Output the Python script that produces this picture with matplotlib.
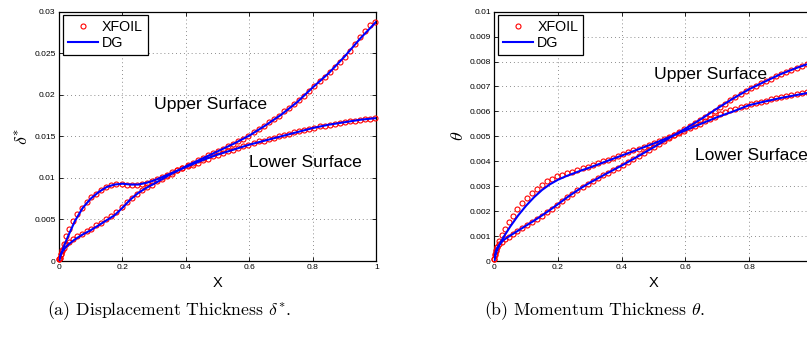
import matplotlib
matplotlib.use('Agg')
import matplotlib.pyplot as plt
from matplotlib.ticker import FuncFormatter
from matplotlib.lines import Line2D

plt.rcParams['font.family'] = ['Liberation Sans', 'DejaVu Sans']
plt.rcParams['mathtext.fontset'] = 'cm'

# %% XFOIL boundary-layer stations (same chordwise stations on both surfaces)
x_xfoil = [0.0, 0.002, 0.005, 0.009, 0.015, 0.023, 0.033, 0.045, 0.058, 0.072,
           0.087, 0.102, 0.117, 0.133, 0.149, 0.165, 0.181, 0.197, 0.213, 0.229,
           0.245, 0.261, 0.277, 0.293, 0.309, 0.325, 0.341, 0.357, 0.373, 0.389,
           0.405, 0.421, 0.437, 0.453, 0.469, 0.485, 0.501, 0.517, 0.533, 0.549,
           0.565, 0.581, 0.597, 0.613, 0.629, 0.645, 0.661, 0.677, 0.693, 0.709,
           0.725, 0.741, 0.757, 0.773, 0.789, 0.805, 0.821, 0.837, 0.853, 0.869,
           0.885, 0.901, 0.917, 0.933, 0.949, 0.965, 0.981, 0.996]

# displacement thickness, XFOIL
dstar_up_xfoil = [0.0002, 0.0004, 0.0008, 0.0012, 0.0016, 0.0020, 0.0023, 0.0027, 0.0030, 0.0033,
                  0.0036, 0.0039, 0.0043, 0.0046, 0.0050, 0.0054, 0.0059, 0.0065, 0.0071, 0.0076,
                  0.0081, 0.0085, 0.0089, 0.0092, 0.0096, 0.0099, 0.0102, 0.0105, 0.0109, 0.0112,
                  0.0115, 0.0118, 0.0121, 0.0124, 0.0127, 0.0130, 0.0132, 0.0135, 0.0138, 0.0141,
                  0.0144, 0.0147, 0.0151, 0.0155, 0.0159, 0.0163, 0.0167, 0.0171, 0.0175, 0.0180,
                  0.0184, 0.0189, 0.0194, 0.0199, 0.0205, 0.0211, 0.0217, 0.0222, 0.0227, 0.0233,
                  0.0239, 0.0246, 0.0253, 0.0261, 0.0269, 0.0277, 0.0284, 0.0288]
dstar_lo_xfoil = [0.0002, 0.0004, 0.0008, 0.0013, 0.0020, 0.0030, 0.0039, 0.0048, 0.0057, 0.0064,
                  0.0071, 0.0077, 0.0081, 0.0085, 0.0089, 0.0091, 0.0093, 0.0093, 0.0092, 0.0092,
                  0.0092, 0.0093, 0.0094, 0.0096, 0.0099, 0.0101, 0.0104, 0.0107, 0.0109, 0.0112,
                  0.0114, 0.0116, 0.0118, 0.0121, 0.0123, 0.0126, 0.0128, 0.0130, 0.0132, 0.0134,
                  0.0136, 0.0138, 0.0140, 0.0142, 0.0144, 0.0145, 0.0147, 0.0148, 0.0150, 0.0152,
                  0.0153, 0.0155, 0.0156, 0.0158, 0.0159, 0.0160, 0.0162, 0.0163, 0.0164, 0.0165,
                  0.0166, 0.0167, 0.0168, 0.0169, 0.0170, 0.0171, 0.0171, 0.0172]

# momentum thickness, XFOIL
theta_up_xfoil = [0.00010, 0.00030, 0.00046, 0.00058, 0.00068, 0.00078, 0.00087, 0.00097, 0.00108, 0.00119,
                  0.00131, 0.00143, 0.00156, 0.00169, 0.00182, 0.00196, 0.00210, 0.00225, 0.00240, 0.00256,
                  0.00270, 0.00284, 0.00297, 0.00309, 0.00321, 0.00332, 0.00343, 0.00354, 0.00364, 0.00375,
                  0.00386, 0.00398, 0.00410, 0.00421, 0.00433, 0.00445, 0.00457, 0.00469, 0.00481, 0.00493,
                  0.00505, 0.00517, 0.00529, 0.00540, 0.00552, 0.00564, 0.00576, 0.00589, 0.00603, 0.00617,
                  0.00631, 0.00644, 0.00656, 0.00668, 0.00680, 0.00692, 0.00702, 0.00712, 0.00722, 0.00732,
                  0.00741, 0.00750, 0.00759, 0.00768, 0.00775, 0.00782, 0.00789, 0.00795]
theta_lo_xfoil = [0.00010, 0.00025, 0.00042, 0.00058, 0.00080, 0.00106, 0.00129, 0.00155, 0.00182, 0.00207,
                  0.00231, 0.00253, 0.00272, 0.00290, 0.00305, 0.00319, 0.00330, 0.00339, 0.00346, 0.00352,
                  0.00359, 0.00365, 0.00372, 0.00379, 0.00386, 0.00393, 0.00400, 0.00407, 0.00415, 0.00423,
                  0.00430, 0.00437, 0.00444, 0.00451, 0.00459, 0.00466, 0.00473, 0.00481, 0.00489, 0.00497,
                  0.00505, 0.00514, 0.00523, 0.00532, 0.00541, 0.00550, 0.00560, 0.00570, 0.00579, 0.00588,
                  0.00596, 0.00604, 0.00610, 0.00616, 0.00622, 0.00628, 0.00633, 0.00638, 0.00643, 0.00648,
                  0.00652, 0.00657, 0.00661, 0.00665, 0.00669, 0.00673, 0.00677, 0.00680]

# %% DG solution
x_dg = [0.0, 0.005, 0.01, 0.02, 0.03, 0.05, 0.075, 0.1, 0.125, 0.15,
        0.175, 0.2, 0.225, 0.25, 0.275, 0.3, 0.35, 0.4, 0.45, 0.5,
        0.55, 0.6, 0.65, 0.7, 0.75, 0.8, 0.85, 0.9, 0.95, 1.0]
dstar_up_dg = [0.0, 0.0007, 0.0011, 0.0016, 0.0020, 0.0026, 0.0032, 0.0037, 0.0043, 0.0049,
               0.0055, 0.0064, 0.0074, 0.0082, 0.0088, 0.0093, 0.0104, 0.0114, 0.0123, 0.0132,
               0.0141, 0.0151, 0.0163, 0.0176, 0.0191, 0.0209, 0.0226, 0.0246, 0.0268, 0.0288]
dstar_lo_dg = [0.0, 0.0007, 0.0012, 0.0022, 0.0031, 0.0048, 0.0064, 0.0075, 0.0083, 0.0089,
               0.0092, 0.0093, 0.0092, 0.0092, 0.0094, 0.0097, 0.0105, 0.0113, 0.0121, 0.0128,
               0.0134, 0.0140, 0.0145, 0.0150, 0.0155, 0.0160, 0.0164, 0.0167, 0.0170, 0.0172]
theta_up_dg = [0.0, 0.00040, 0.00055, 0.00072, 0.00085, 0.00102, 0.00122, 0.00142, 0.00162, 0.00183,
               0.00205, 0.00228, 0.00252, 0.00274, 0.00295, 0.00314, 0.00349, 0.00383, 0.00419, 0.00456,
               0.00494, 0.00531, 0.00570, 0.00612, 0.00652, 0.00689, 0.00720, 0.00750, 0.00775, 0.00797]
theta_lo_dg = [0.0, 0.00030, 0.00048, 0.00075, 0.00098, 0.00138, 0.00183, 0.00222, 0.00256, 0.00285,
               0.00308, 0.00326, 0.00340, 0.00352, 0.00364, 0.00375, 0.00399, 0.00423, 0.00447, 0.00471,
               0.00497, 0.00524, 0.00551, 0.00577, 0.00600, 0.00625, 0.00640, 0.00654, 0.00666, 0.00678]

xticks = [0, 0.2, 0.4, 0.6, 0.8, 1]
dstar_ticks = [0, 0.005, 0.01, 0.015, 0.02, 0.025, 0.03]
theta_ticks = [0, 0.001, 0.002, 0.003, 0.004, 0.005, 0.006, 0.007, 0.008, 0.009, 0.01]


# %% Plotting
def style_axes(ax, yticks, ylim):
    ax.set_xlim(0, 1)
    ax.set_ylim(*ylim)
    ax.set_xticks(xticks)
    ax.set_yticks(yticks)
    fmt = FuncFormatter(lambda v, pos: '%g' % round(v, 6))
    ax.xaxis.set_major_formatter(fmt)
    ax.yaxis.set_major_formatter(fmt)
    ax.tick_params(direction='in', length=3, width=0.6, labelsize=6.1,
                   top=True, right=True, pad=2.5, colors='black')
    ax.grid(True, color='0.45', linestyle=(0, (0.8, 3.2)), linewidth=0.7)
    for s in ax.spines.values():
        s.set_linewidth(0.9)
        s.set_color('black')
    ax.set_xlabel('X', fontsize=10.5, labelpad=3)
    handles = [Line2D([], [], linestyle='none', marker='o', markersize=3.6,
                      markerfacecolor='none', markeredgecolor='red', markeredgewidth=0.8),
               Line2D([], [], color='blue', linewidth=1.5)]
    leg = ax.legend(handles, ['XFOIL', 'DG'], loc='upper left', fontsize=10.3,
                    fancybox=False, framealpha=1, edgecolor='black',
                    borderaxespad=0.25, handlelength=2.1, handletextpad=0.3,
                    labelspacing=0.15, borderpad=0.35)
    leg.get_frame().set_linewidth(0.9)


def plot_pair(ax, x_xf, y_up, y_lo, x_d, d_up, d_lo):
    for y in (y_up, y_lo):
        ax.plot(x_xf, y, linestyle='none', marker='o', markersize=3.6,
                markerfacecolor='none', markeredgecolor='red', markeredgewidth=0.8,
                clip_on=False, zorder=3)
    for y in (d_up, d_lo):
        ax.plot(x_d, y, color='blue', linewidth=1.5, zorder=4)


fig = plt.figure(figsize=(8.07, 3.37), dpi=100)

ax1 = fig.add_axes([0.0731, 0.2255, 0.3932, 0.7398])
plot_pair(ax1, x_xfoil, dstar_up_xfoil, dstar_lo_xfoil, x_dg, dstar_up_dg, dstar_lo_dg)
style_axes(ax1, dstar_ticks, (0, 0.03))
ax1.set_ylabel(r'$\delta^{*}$', fontsize=13, labelpad=1)
ax1.text(0.30, 0.0188, 'Upper Surface', fontsize=12.6, va='center', ha='left')
ax1.text(0.60, 0.01185, 'Lower Surface', fontsize=12.6, va='center', ha='left')

ax2 = fig.add_axes([0.6125, 0.2255, 0.3947, 0.7398])
plot_pair(ax2, x_xfoil, theta_up_xfoil, theta_lo_xfoil, x_dg, theta_up_dg, theta_lo_dg)
style_axes(ax2, theta_ticks, (0, 0.01))
# the x = 1 label falls past the right edge of the figure
ax2.set_xticklabels(['0', '0.2', '0.4', '0.6', '0.8', ''])
ax2.set_ylabel(r'$\theta$', fontsize=13, labelpad=2)
ax2.text(0.50, 0.0075, 'Upper Surface', fontsize=12.6, va='center', ha='left')
ax2.text(0.63, 0.00425, 'Lower Surface', fontsize=12.6, va='center', ha='left')

fig.text(0.2094, 0.077, r'(a) Displacement Thickness $\delta^{*}$.', family='cmr10',
         fontsize=12.8, ha='center', va='center')
fig.text(0.7367, 0.077, r'(b) Momentum Thickness $\theta$.', family='cmr10',
         fontsize=12.8, ha='center', va='center')

fig.savefig('out.png', dpi=100)
plt.close(fig)
